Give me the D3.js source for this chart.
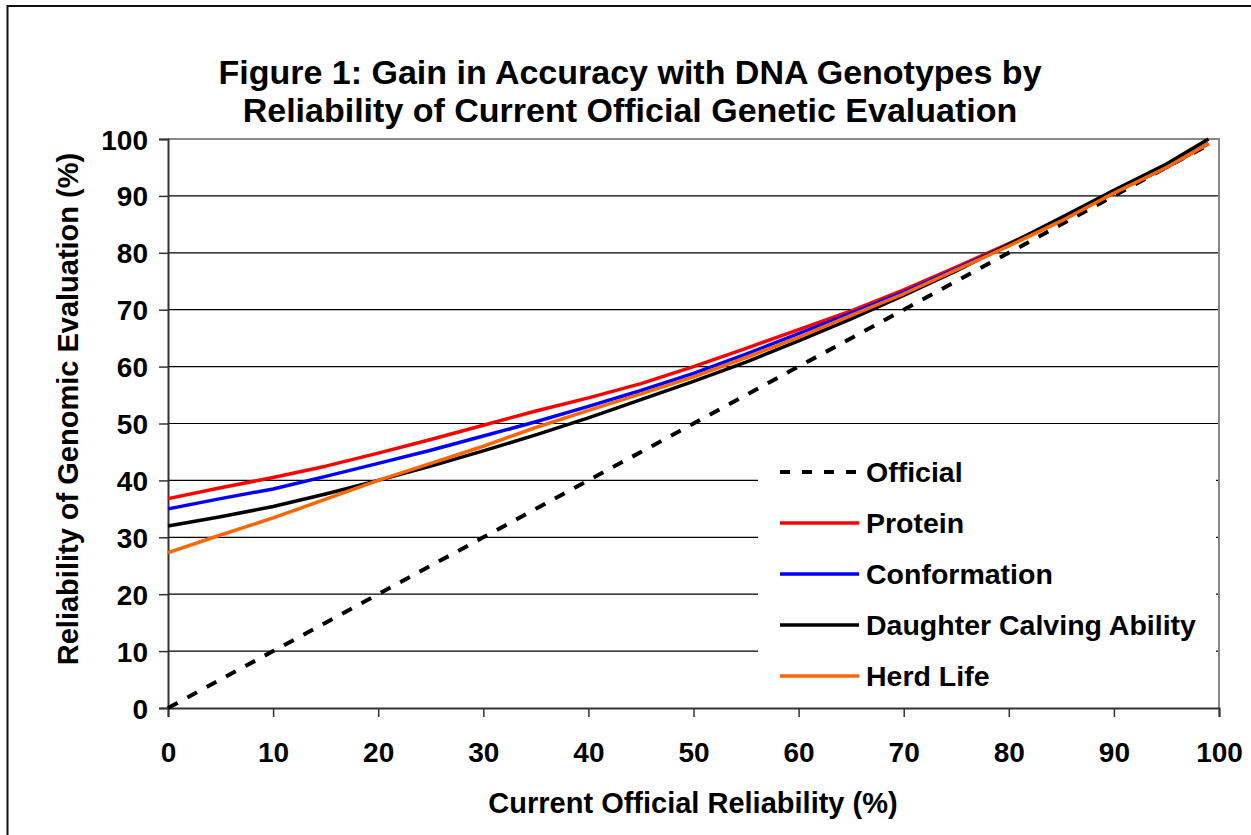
<!DOCTYPE html>
<html>
<head>
<meta charset="utf-8">
<script src="https://cdn.jsdelivr.net/npm/d3@7"></script>
<style>
  body { margin: 0; background: #fff; }
  svg { display: block; font-family: 'Liberation Sans', Arial, sans-serif; font-weight: bold; }
</style>
</head>
<body>
<div id="chart"></div>
<script>
// x positions (current official reliability, %)
const xVals = [0, 5, 10, 15, 20, 25, 30, 35, 40, 45, 50, 55, 60, 65, 70, 75, 80, 85, 90, 95, 99];

const official = [0, 5, 10, 15, 20, 25, 30, 35, 40, 45, 50, 55, 60, 65, 70, 75, 80, 85, 90, 95, 99];
const protein = [36.8, 38.7, 40.5, 42.5, 44.8, 47.2, 49.7, 52.2, 54.5, 57, 60, 63.2, 66.5, 69.8, 73.5, 77.5, 81.6, 85.8, 90.6, 95, 99.2];
const conformation = [35, 36.8, 38.5, 40.7, 43, 45.3, 47.8, 50.3, 53, 55.8, 58.8, 62.2, 65.8, 69.4, 73.1, 77.2, 81.4, 85.7, 90.6, 95, 99.2];
const calvingAbility = [32, 33.6, 35.4, 37.6, 40, 42.5, 45.2, 48, 51, 54.2, 57.4, 60.8, 64.5, 68.4, 72.5, 76.8, 81.5, 86.2, 91, 95.6, 100];
const herdLife = [27.3, 30.4, 33.4, 36.7, 40, 43, 46, 49.3, 52.3, 55.2, 58.2, 61.6, 65.2, 69, 72.8, 77, 81.2, 85.6, 90.5, 95, 99.2];

const xTicks = [0, 10, 20, 30, 40, 50, 60, 70, 80, 90, 100];
const yTicks = [0, 10, 20, 30, 40, 50, 60, 70, 80, 90, 100];

const seriesNames = ['Official', 'Protein', 'Conformation', 'Daughter Calving Ability', 'Herd Life'];
const seriesValues = [official, protein, conformation, calvingAbility, herdLife];
const seriesColors = ['#000000', '#ff0000', '#0000ff', '#000000', '#ff6600'];

const W = 1251, H = 835;
const margin = {top: 139, right: 32, bottom: 127, left: 168};
const width = W - margin.left - margin.right,
  height = H - margin.top - margin.bottom;

const svg = d3.select('#chart')
  .append('svg')
  .attr('width', W)
  .attr('height', H);

svg.append('rect').attr('width', W).attr('height', H).attr('fill', '#fff');

// outer chart frame (only top and left edges fall inside the picture)
svg.append('rect')
  .attr('x', 7.5).attr('y', 6)
  .attr('width', W + 20).attr('height', H + 20)
  .attr('fill', 'none')
  .attr('stroke', '#111')
  .attr('stroke-width', 2);

// title
svg.append('text')
  .attr('x', 630).attr('y', 84)
  .attr('text-anchor', 'middle')
  .style('font-size', '34px')
  .text('Figure 1: Gain in Accuracy with DNA Genotypes by');
svg.append('text')
  .attr('x', 630).attr('y', 122)
  .attr('text-anchor', 'middle')
  .style('font-size', '34px')
  .text('Reliability of Current Official Genetic Evaluation');

const g = svg.append('g')
  .attr('transform', `translate(${margin.left},${margin.top})`);

const x = d3.scaleLinear().domain([0, 100]).range([0, width]);
const y = d3.scaleLinear().domain([0, 100]).range([height, 0]);

// gridlines
g.append('g')
  .selectAll('line')
  .data(yTicks.filter(d => d > 0 && d < 100))
  .enter().append('line')
  .attr('x1', 0).attr('x2', width)
  .attr('y1', d => y(d)).attr('y2', d => y(d))
  .attr('stroke', '#000')
  .attr('stroke-width', 1.2);

// plot border top/right
g.append('path')
  .attr('d', `M0,${y(100)}H${width}V${height}`)
  .attr('fill', 'none')
  .attr('stroke', '#888')
  .attr('stroke-width', 2);

const xAxis = gg => gg
  .attr('transform', `translate(0,${height})`)
  .call(d3.axisBottom(x).tickValues(xTicks).tickSize(9).tickPadding(24))
  .call(gg => gg.select('.domain').attr('stroke', '#333').attr('stroke-width', 2))
  .call(gg => gg.selectAll('.tick line').attr('stroke', '#333').attr('stroke-width', 1.5))
  .call(gg => gg.selectAll('text').attr('fill', '#000').style('font-size', '28px').attr('dy', '0.75em'));

const yAxis = gg => gg
  .call(d3.axisLeft(y).tickValues(yTicks).tickSize(9).tickPadding(11))
  .call(gg => gg.select('.domain').attr('stroke', '#333').attr('stroke-width', 2))
  .call(gg => gg.selectAll('.tick line').attr('stroke', '#333').attr('stroke-width', 1.5))
  .call(gg => gg.selectAll('text').attr('fill', '#000').style('font-size', '28px').attr('dy', '0.36em'));

g.append('g').call(xAxis).attr('font-family', null).attr('font-size', null);
g.append('g').call(yAxis).attr('font-family', null).attr('font-size', null);

// axis titles
svg.append('text')
  .attr('x', 693).attr('y', 813)
  .attr('text-anchor', 'middle')
  .style('font-size', '29px')
  .text('Current Official Reliability (%)');

svg.append('text')
  .attr('transform', 'translate(78,409) rotate(-90)')
  .attr('text-anchor', 'middle')
  .style('font-size', '29px')
  .text('Reliability of Genomic Evaluation (%)');

// legend box (white, hides gridlines behind it)
const legend = svg.append('g');
legend.append('rect')
  .attr('x', 758).attr('y', 438)
  .attr('width', 458).attr('height', 266)
  .attr('fill', '#fff');

// series lines
const line = d3.line()
  .x((d, i) => x(xVals[i]))
  .y(d => y(d));

g.append('g')
  .selectAll('path')
  .data(seriesValues)
  .enter().append('path')
  .attr('d', d => line(d))
  .attr('fill', 'none')
  .attr('stroke', (d, i) => seriesColors[i])
  .attr('stroke-width', (d, i) => i === 0 ? 4 : 3.5)
  .attr('stroke-dasharray', (d, i) => i === 0 ? '11,11' : null)
  .attr('stroke-linejoin', 'round');

const items = legend.selectAll('g.item')
  .data(seriesNames)
  .enter().append('g')
  .attr('class', 'item')
  .attr('transform', (d, i) => `translate(780,${472 + i * 51})`);

items.append('line')
  .attr('x1', 0).attr('x2', 79)
  .attr('stroke', (d, i) => seriesColors[i])
  .attr('stroke-width', (d, i) => i === 0 ? 4 : 3.5)
  .attr('stroke-dasharray', (d, i) => i === 0 ? '10,12' : null);

items.append('text')
  .attr('x', 86)
  .attr('dy', '0.36em')
  .style('font-size', '28.5px')
  .text(d => d);
</script>
</body>
</html>
